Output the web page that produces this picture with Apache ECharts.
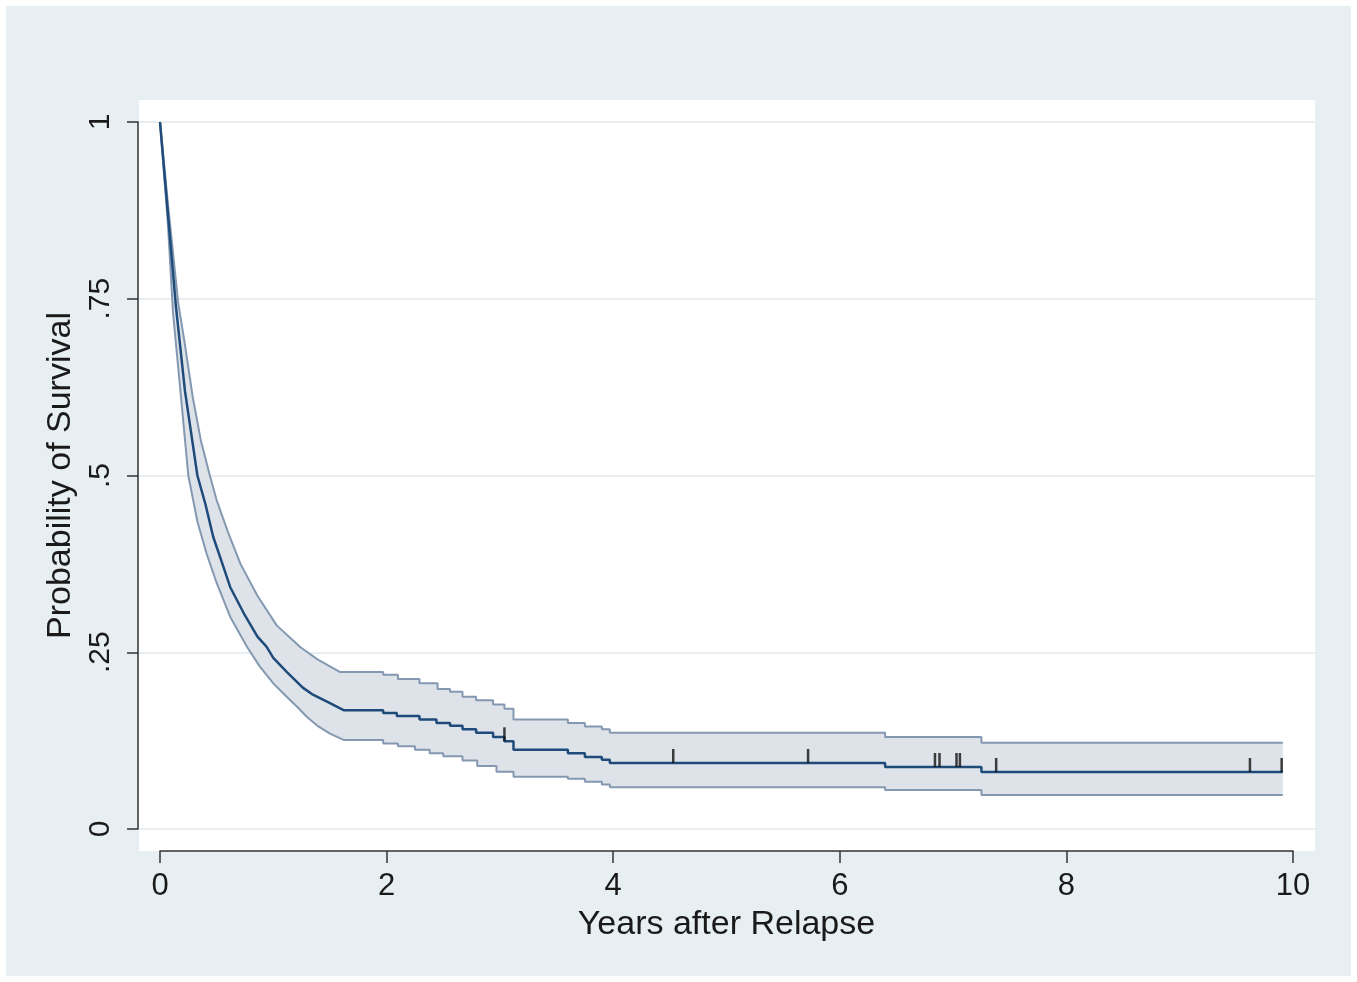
<!DOCTYPE html>
<html>
<head>
<meta charset="utf-8">
<script src="https://cdn.jsdelivr.net/npm/echarts@6/dist/echarts.min.js"></script>
<style>
  html, body { margin: 0; padding: 0; background: #fff; }
  #chart { width: 1357px; height: 982px; }
</style>
</head>
<body>
<div id="chart"></div>
<script>
// Kaplan-Meier: smooth early part, then step events [time, new value]
var mainEarly = [[0, 1], [0.07, 0.87], [0.14, 0.74], [0.22, 0.62], [0.33, 0.50], [0.40, 0.46], [0.47, 0.413],
  [0.53, 0.385], [0.62, 0.342], [0.75, 0.302], [0.86, 0.272], [0.94, 0.258], [1.0, 0.242], [1.12, 0.222],
  [1.26, 0.20], [1.35, 0.19], [1.5, 0.178], [1.62, 0.168]];
var mainSteps = [[1.97, 0.164], [2.09, 0.160], [2.29, 0.155], [2.44, 0.150], [2.56, 0.146], [2.67, 0.141],
  [2.79, 0.136], [2.94, 0.130], [3.04, 0.124], [3.12, 0.112], [3.6, 0.107], [3.75, 0.102], [3.9, 0.098],
  [3.97, 0.0934], [6.4, 0.0877], [7.25, 0.0806]];

var upperEarly = [[0, 1], [0.07, 0.885], [0.16, 0.745], [0.22, 0.685], [0.29, 0.61], [0.36, 0.55], [0.44, 0.50],
  [0.5, 0.465], [0.6, 0.42], [0.71, 0.375], [0.86, 0.33], [1.03, 0.288], [1.24, 0.257], [1.39, 0.24], [1.59, 0.222]];
var upperSteps = [[1.97, 0.218], [2.1, 0.212], [2.29, 0.206], [2.45, 0.198], [2.56, 0.194], [2.67, 0.187],
  [2.79, 0.182], [2.94, 0.176], [3.04, 0.170], [3.12, 0.155], [3.6, 0.150], [3.75, 0.145], [3.9, 0.141],
  [3.97, 0.136], [6.4, 0.130], [7.25, 0.122]];

var lowerEarly = [[0, 1], [0.07, 0.855], [0.115, 0.73], [0.18, 0.62], [0.25, 0.50], [0.33, 0.435], [0.41, 0.39],
  [0.5, 0.348], [0.62, 0.30], [0.77, 0.257], [0.88, 0.23], [1.0, 0.206], [1.1, 0.19], [1.21, 0.173],
  [1.3, 0.158], [1.39, 0.146], [1.5, 0.135], [1.62, 0.126]];
var lowerSteps = [[1.97, 0.121], [2.1, 0.117], [2.25, 0.112], [2.38, 0.107], [2.5, 0.103], [2.67, 0.097],
  [2.8, 0.089], [2.97, 0.081], [3.12, 0.074], [3.6, 0.071], [3.75, 0.067], [3.9, 0.063], [3.97, 0.059],
  [6.4, 0.055], [7.25, 0.048]];

var lastTime = 9.91;

// censored observations
var censorTime = [3.04, 4.53, 5.72, 6.84, 6.88, 7.03, 7.06, 7.38, 9.62, 9.90];
var censorProb = [0.124, 0.0934, 0.0934, 0.0877, 0.0877, 0.0877, 0.0877, 0.0806, 0.0806, 0.0806];

var xTicks = [0, 2, 4, 6, 8, 10];
var yTickLabels = ['0', '.25', '.5', '.75', '1'];

// horizontal-then-vertical corners of a step function
function stepPath(early, steps, tEnd) {
  var pts = early.slice();
  var last = early[early.length - 1][1];
  steps.forEach(function (p) {
    pts.push([p[0], last]);
    pts.push(p);
    last = p[1];
  });
  pts.push([tEnd, last]);
  return pts;
}

var mainPath = stepPath(mainEarly, mainSteps, lastTime);
var upperPath = stepPath(upperEarly, upperSteps, lastTime);
var lowerPath = stepPath(lowerEarly, lowerSteps, lastTime);
var censorData = censorTime.map(function (t, i) { return [t, censorProb[i]]; });

var font = "'Liberation Sans', Arial, sans-serif";
var ink = '#1a1a1a';

var chart = echarts.init(document.getElementById('chart'));

var option = {
  backgroundColor: '#ffffff',
  animation: false,
  graphic: {
    elements: [
      { type: 'rect', z: -20, shape: { x: 6, y: 6, width: 1345, height: 970 }, style: { fill: '#e8eff2' } },
      { type: 'rect', z: -10, shape: { x: 139, y: 100, width: 1176, height: 751 }, style: { fill: '#ffffff' } }
    ]
  },
  grid: [
    { left: 139, right: 42, top: 122, bottom: 153 },
    { left: 160, right: 64, top: 122, bottom: 153 }
  ],
  xAxis: [
    { gridIndex: 0, type: 'value', min: 0, max: 1, show: false },
    {
      gridIndex: 1, type: 'value', min: xTicks[0], max: xTicks[xTicks.length - 1], interval: 2, offset: 22,
      name: 'Years after Relapse', nameLocation: 'middle', nameGap: 57,
      nameTextStyle: { fontFamily: font, fontSize: 34, color: ink },
      axisLine: { onZero: false, lineStyle: { color: '#333', width: 1.5 } },
      axisTick: { length: 12, lineStyle: { color: '#333', width: 1.5 } },
      axisLabel: { fontFamily: font, fontSize: 31, color: ink, margin: 20 },
      splitLine: { show: false }
    }
  ],
  yAxis: [
    {
      gridIndex: 0, type: 'value', min: 0, max: 1, interval: 0.25,
      axisLine: { show: false }, axisTick: { show: false }, axisLabel: { show: false },
      splitLine: { lineStyle: { color: '#e8eef2', width: 2 } }
    },
    {
      gridIndex: 1, type: 'value', min: 0, max: 1, interval: 0.25, offset: 22,
      name: 'Probability of Survival', nameLocation: 'middle', nameGap: 59, nameRotate: 90,
      nameTextStyle: { fontFamily: font, fontSize: 34, color: ink },
      axisLine: { show: true, onZero: false, lineStyle: { color: '#333', width: 1.5 } },
      axisTick: { show: true, length: 11, lineStyle: { color: '#333', width: 1.5 } },
      axisLabel: {
        fontFamily: font, fontSize: 30, color: ink, rotate: 90, margin: 22,
        formatter: function (v, i) { return yTickLabels[i]; }
      },
      splitLine: { show: false }
    }
  ],
  series: [
    {
      // confidence band fill
      type: 'custom', xAxisIndex: 1, yAxisIndex: 1, data: [[0, 0]], z: 1,
      renderItem: function (params, api) {
        var pts = upperPath.map(function (p) { return api.coord(p); });
        lowerPath.slice().reverse().forEach(function (p) { pts.push(api.coord(p)); });
        return { type: 'polygon', shape: { points: pts }, style: { fill: '#dee3e9' } };
      }
    },
    {
      type: 'line', xAxisIndex: 1, yAxisIndex: 1, data: upperPath, showSymbol: false, z: 2,
      lineStyle: { color: '#8499b1', width: 2 }
    },
    {
      type: 'line', xAxisIndex: 1, yAxisIndex: 1, data: lowerPath, showSymbol: false, z: 2,
      lineStyle: { color: '#8499b1', width: 2 }
    },
    {
      type: 'line', xAxisIndex: 1, yAxisIndex: 1, data: mainPath, showSymbol: false, z: 3,
      lineStyle: { color: '#1f4b7a', width: 2.5 }
    },
    {
      type: 'scatter', xAxisIndex: 1, yAxisIndex: 1, data: censorData, z: 4,
      symbol: 'rect', symbolSize: [2.5, 14], symbolOffset: [0, -7],
      itemStyle: { color: '#111' }
    }
  ]
};

chart.setOption(option);
</script>
</body>
</html>
